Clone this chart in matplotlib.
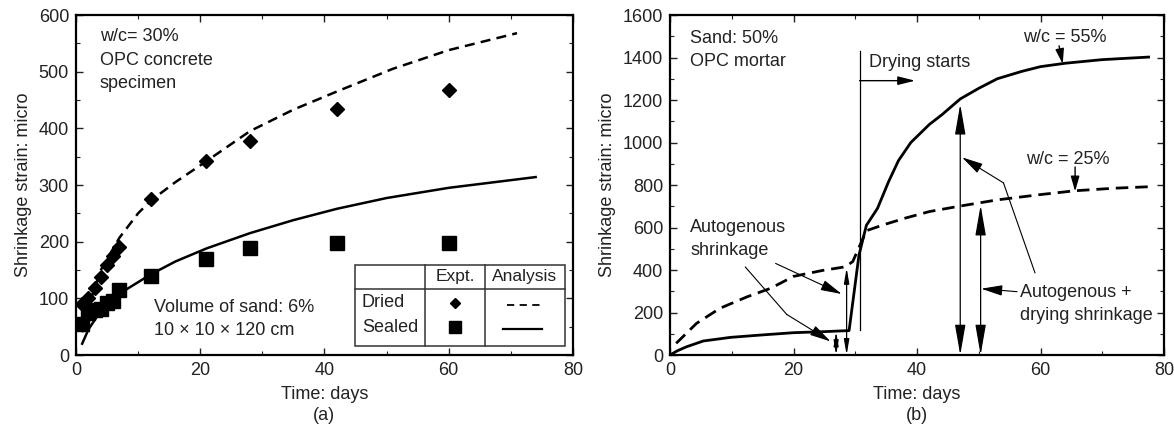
import numpy as np
import matplotlib.pyplot as plt
from matplotlib.patches import Rectangle
from matplotlib.lines import Line2D

plt.rcParams['font.family'] = ['Liberation Sans', 'DejaVu Sans']
plt.rcParams['font.size'] = 13
plt.rcParams['text.color'] = '#222222'
plt.rcParams['axes.labelcolor'] = '#222222'
plt.rcParams['xtick.color'] = '#222222'
plt.rcParams['ytick.color'] = '#222222'

# (a) OPC concrete, w/c 30 %, measured points
days_expt = [1, 2, 3, 4, 5, 6, 7, 12, 21, 28, 42, 60]
dried_expt = [90, 100, 118, 138, 158, 175, 191, 276, 342, 377, 435, 468]
sealed_expt = [55, 75, 80, 82, 92, 95, 115, 140, 170, 188, 197, 198]

# (a) analysis curves
dried_days = [1, 2, 4, 7, 10, 12, 16, 21, 28, 35, 42, 51, 60, 71]
dried_calc = [40, 85, 150, 207, 250, 272, 305, 342, 395, 433, 465, 505, 538, 568]
sealed_days = [1, 2, 4, 6, 8, 12, 16, 21, 28, 35, 42, 50, 60, 74]
sealed_calc = [20, 45, 78, 100, 115, 142, 165, 188, 215, 238, 258, 277, 295, 314]

# (b) OPC mortar, sand 50 %
wc55_days = [0, 1.2, 2.7, 5.4, 9.8, 14.7, 20, 25, 29, 30.6, 31.8, 33.6, 35.4, 37,
             39, 42, 44, 47, 50, 53, 57, 60, 64, 70, 77.5]
wc55 = [0, 20, 39, 66, 83, 94, 105, 110, 115, 470, 610, 690, 816, 915,
        1000, 1085, 1130, 1205, 1255, 1300, 1335, 1357, 1373, 1390, 1402]
wc25_days = [1.0, 4.3, 8.1, 12.5, 16.3, 20, 24.7, 28.4, 29.6, 31.8, 34.6, 38.2,
             42, 46.8, 53, 60, 65.6, 72, 77.7]
wc25 = [55, 149, 220, 274, 314, 370, 398, 415, 440, 585, 613, 645,
        675, 700, 730, 755, 773, 785, 792]

drying_start = 30.7

fig = plt.figure(figsize=(11.74, 4.30), dpi=100)
ax1 = fig.add_axes([0.0647, 0.1744, 0.4233, 0.7907])
ax2 = fig.add_axes([0.5707, 0.1744, 0.4208, 0.7907])

for ax in (ax1, ax2):
    for s in ax.spines.values():
        s.set_linewidth(1.6)
    ax.tick_params(which='both', direction='in', top=True, right=True, pad=5)
    ax.tick_params(which='major', length=5, width=1)
    ax.tick_params(which='minor', length=3, width=0.8)
    ax.set_xlim(0, 80)
    ax.set_xticks(np.arange(0, 81, 20))
    ax.set_xticks(np.arange(0, 81, 10), minor=True)

# ---- (a) ----
ax1.set_ylim(0, 600)
ax1.set_yticks(np.arange(0, 601, 100))
ax1.set_yticks(np.arange(0, 601, 50), minor=True)
ax1.plot(dried_days, dried_calc, color='k', lw=1.8, dashes=(4, 2.5))
ax1.plot(sealed_days, sealed_calc, color='k', lw=1.8)
ax1.plot(days_expt, dried_expt, 'D', color='k', ms=7, ls='none')
ax1.plot(days_expt, sealed_expt, 's', color='k', ms=9.5, ls='none')
ax1.set_xlabel('Time: days\n(a)', linespacing=1.35, labelpad=5)
ax1.set_ylabel('Shrinkage strain: micro', labelpad=5)

ax1.text(0.048, 0.936, 'w/c= 30%', transform=ax1.transAxes, va='center')
ax1.text(0.048, 0.866, 'OPC concrete', transform=ax1.transAxes, va='center')
ax1.text(0.048, 0.800, 'specimen', transform=ax1.transAxes, va='center')
ax1.text(0.157, 0.141, 'Volume of sand: 6%', transform=ax1.transAxes, va='center')
ax1.text(0.157, 0.071, '10 \u00d7 10 \u00d7 120 cm', transform=ax1.transAxes, va='center')

# legend drawn as a small table
tx0, tx1, tc1, tc2 = 0.561, 0.984, 0.702, 0.823
ty0, ty1, th = 0.026, 0.265, 0.194
tab_kw = dict(transform=ax1.transAxes, color='#333333', lw=1.1)
ax1.add_patch(Rectangle((tx0, ty0), tx1 - tx0, ty1 - ty0, transform=ax1.transAxes,
                        fill=True, facecolor='white', edgecolor='#333333', lw=1.1, zorder=3))
for ln in (Line2D([tx0, tx1], [th, th], **tab_kw),
           Line2D([tc1, tc1], [ty0, ty1], **tab_kw),
           Line2D([tc2, tc2], [ty0, ty1], **tab_kw)):
    ln.set_zorder(4)
    ax1.add_line(ln)
ax1.text((tc1 + tc2) / 2, (th + ty1) / 2, 'Expt.', transform=ax1.transAxes,
         ha='center', va='center', zorder=5, fontsize=12.5)
ax1.text((tc2 + tx1) / 2, (th + ty1) / 2, 'Analysis', transform=ax1.transAxes,
         ha='center', va='center', zorder=5, fontsize=12.5)
ax1.text(0.575, 0.153, 'Dried', transform=ax1.transAxes, va='center', zorder=5)
ax1.text(0.575, 0.082, 'Sealed', transform=ax1.transAxes, va='center', zorder=5)
ax1.plot([(tc1 + tc2) / 2], [0.153], 'D', color='k', ms=5.5, transform=ax1.transAxes, zorder=5)
ax1.plot([(tc1 + tc2) / 2], [0.082], 's', color='k', ms=8, transform=ax1.transAxes, zorder=5)
ax1.plot([0.867, 0.934], [0.147, 0.147], color='k', lw=1.3, dashes=(4, 3),
         transform=ax1.transAxes, zorder=5)
ax1.plot([0.859, 0.938], [0.076, 0.076], color='k', lw=1.6,
         transform=ax1.transAxes, zorder=5)

# ---- (b) ----
ax2.set_ylim(0, 1600)
ax2.set_yticks(np.arange(0, 1601, 200))
ax2.set_yticks(np.arange(0, 1601, 100), minor=True)
ax2.plot(wc55_days, wc55, color='k', lw=2.0)
ax2.plot(wc25_days, wc25, color='k', lw=2.0, dashes=(4.5, 2.5))
ax2.set_xlabel('Time: days\n(b)', linespacing=1.35, labelpad=5)
ax2.set_ylabel('Shrinkage strain: micro', labelpad=5)

ax2.text(3.3, 1490, 'Sand: 50%', va='center')
ax2.text(3.3, 1380, 'OPC mortar', va='center')

# start of drying
ax2.plot([drying_start, drying_start], [120, 1430], color='k', lw=0.9)
ax2.text(drying_start + 1.6, 1375, 'Drying starts', va='center')
ax2.annotate('', xy=(39.7, 1291), xytext=(drying_start, 1291),
             arrowprops=dict(arrowstyle='-|>,head_length=0.8,head_width=0.2',
                             color='k', lw=1.0, shrinkA=0, shrinkB=0))

ax2.text(64.0, 1492, 'w/c = 55%', ha='center', va='center')
ax2.annotate('', xy=(63.6, 1370), xytext=(63.0, 1455),
             arrowprops=dict(arrowstyle='-|>,head_length=0.7,head_width=0.2',
                             color='k', lw=1.0, shrinkA=0, shrinkB=0))
ax2.text(64.4, 918, 'w/c = 25%', ha='center', va='center')
ax2.annotate('', xy=(65.6, 770), xytext=(65.6, 885),
             arrowprops=dict(arrowstyle='-|>,head_length=0.7,head_width=0.2',
                             color='k', lw=1.0, shrinkA=0, shrinkB=0))

# double-headed strain arrows
dbl = [(26.9, 110, 0.2), (28.6, 410, 0.22), (47.0, 1180, 0.45), (50.3, 705, 0.45)]
for d, top, hw in dbl:
    ax2.annotate('', xy=(d, top), xytext=(d, 0),
                 arrowprops=dict(arrowstyle='<|-|>,head_length=%.2f,head_width=%.2f'
                                 % (hw * 3.2, hw * 0.55),
                                 color='k', lw=0.9, shrinkA=0, shrinkB=0))

ax2.text(3.25, 600, 'Autogenous', va='center')
ax2.text(3.25, 494, 'shrinkage', va='center')
ax2.annotate('', xy=(27.8, 287), xytext=(17.1, 431),
             arrowprops=dict(arrowstyle='-|>,head_length=1.0,head_width=0.25',
                             color='k', lw=0.8, shrinkA=0, shrinkB=0))
ax2.plot([12.2, 18.9], [414, 191], color='k', lw=0.8)
ax2.annotate('', xy=(26.0, 64), xytext=(18.9, 191),
             arrowprops=dict(arrowstyle='-|>,head_length=1.0,head_width=0.25',
                             color='k', lw=0.8, shrinkA=0, shrinkB=0))

ax2.text(56.7, 296, 'Autogenous +', va='center')
ax2.text(56.7, 188, 'drying shrinkage', va='center')
ax2.annotate('', xy=(50.4, 312), xytext=(56.2, 298),
             arrowprops=dict(arrowstyle='-|>,head_length=1.0,head_width=0.25',
                             color='k', lw=0.8, shrinkA=0, shrinkB=0))
ax2.plot([59.1, 54.0], [387, 810], color='k', lw=0.8)
ax2.annotate('', xy=(47.3, 930), xytext=(54.0, 810),
             arrowprops=dict(arrowstyle='-|>,head_length=1.0,head_width=0.25',
                             color='k', lw=0.8, shrinkA=0, shrinkB=0))

fig.savefig('out.png', dpi=100)
